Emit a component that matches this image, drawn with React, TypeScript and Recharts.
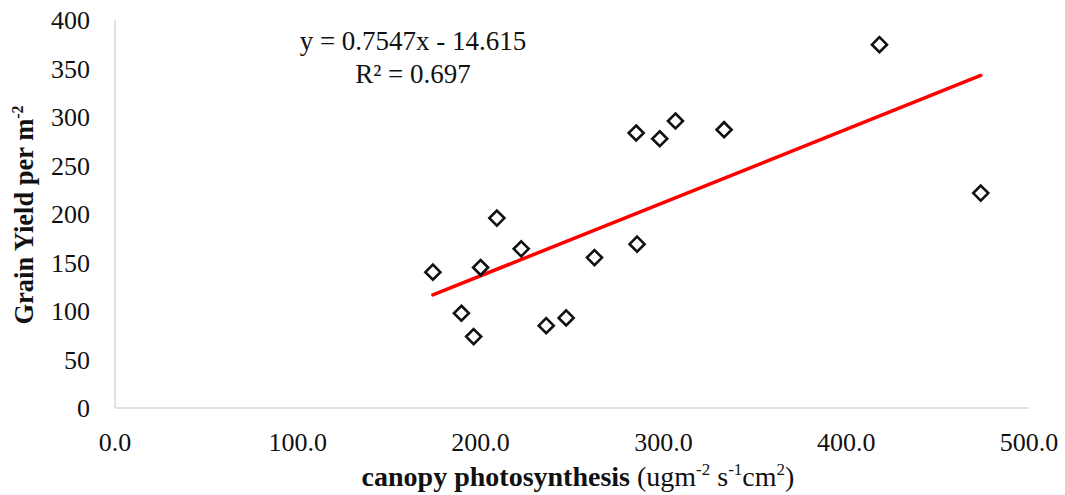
import React from 'react';
import {
  ScatterChart,
  Scatter,
  XAxis,
  YAxis,
  Label,
  Customized,
} from 'recharts';

// canopy photosynthesis (x) and grain yield per m-2 (y) for each plot
const photosynthesis = [
  173.9, 189.5, 196.2, 200.0, 208.9, 222.2, 235.9, 246.8,
  262.3, 285.1, 285.6, 298.0, 306.6, 333.2, 418.2, 473.6,
];
const grainYield = [
  140.0, 97.7, 73.6, 144.8, 195.8, 164.1, 84.9, 92.9,
  155.1, 283.5, 168.9, 277.6, 295.9, 286.9, 374.6, 221.6,
];

const xTicks = [0, 100, 200, 300, 400, 500];
const yTicks = [0, 50, 100, 150, 200, 250, 300, 350, 400];

// linear trend reported on the chart
const slope = 0.7547;
const intercept = -14.615;
const rSquared = 0.697;

const points = photosynthesis.map((x, i) => ({ x, y: grainYield[i] }));
const xMin = Math.min(...photosynthesis);
const xMax = Math.max(...photosynthesis);
const trend = [xMin, xMax].map((x) => ({ x, y: slope * x + intercept }));

const FONT = '"Times New Roman", "Liberation Serif", serif';
const AXIS_GREY = '#d9d9d9';

const Diamond = (props: any) => {
  const { cx, cy } = props;
  const r = 7.5;
  return (
    <path
      d={`M${cx},${cy - r} L${cx + r},${cy} L${cx},${cy + r} L${cx - r},${cy} Z`}
      fill="none"
      stroke="#111"
      strokeWidth={2.6}
      strokeLinejoin="miter"
    />
  );
};

const Equation = () => (
  <g fontFamily={FONT} fontSize={27} fill="#111">
    <text x={413} y={50} textAnchor="middle">
      {`y = ${slope}x - ${Math.abs(intercept)}`}
    </text>
    <text x={413} y={83} textAnchor="middle">
      {`R² = ${rSquared}`}
    </text>
  </g>
);

const XTitle = () => (
  <text x={578} y={486} textAnchor="middle" fontFamily={FONT} fontSize={28} fill="#111">
    <tspan fontWeight="bold">canopy photosynthesis</tspan>
    <tspan> (ugm</tspan>
    <tspan fontSize={17} dy={-11}>-2</tspan>
    <tspan dy={11}> s</tspan>
    <tspan fontSize={17} dy={-11}>-1</tspan>
    <tspan dy={11}>cm</tspan>
    <tspan fontSize={17} dy={-11}>2</tspan>
    <tspan dy={11}>)</tspan>
  </text>
);

const YTitle = () => (
  <text
    transform="translate(33,215) rotate(-90)"
    textAnchor="middle"
    fontFamily={FONT}
    fontSize={26.5}
    fontWeight="bold"
    fill="#111"
  >
    <tspan>Grain Yield per m</tspan>
    <tspan fontSize={16} dy={-10}>-2</tspan>
  </text>
);

const tickStyle = { fill: '#111', fontSize: 26, fontFamily: FONT };

export default function App() {
  return (
    <div style={{ position: 'absolute', left: 0, top: 0, background: '#fff' }}>
      <ScatterChart
        width={1065}
        height={495}
        margin={{ top: 20, right: 36, left: 0, bottom: 0 }}
      >
        <XAxis
          type="number"
          dataKey="x"
          domain={[0, 500]}
          ticks={xTicks}
          tickFormatter={(v: number) => v.toFixed(1)}
          axisLine={{ stroke: AXIS_GREY, strokeWidth: 1.5 }}
          tickLine={false}
          tickMargin={19}
          tick={tickStyle}
          height={87}
          allowDataOverflow
        >
          <Label content={() => <XTitle />} />
        </XAxis>
        <YAxis
          type="number"
          dataKey="y"
          domain={[0, 400]}
          ticks={yTicks}
          axisLine={{ stroke: AXIS_GREY, strokeWidth: 1.5 }}
          tickLine={false}
          tickMargin={19}
          tick={tickStyle}
          width={115}
          allowDataOverflow
        >
          <Label content={() => <YTitle />} />
        </YAxis>
        <Scatter
          data={trend}
          line={{ stroke: '#ff0000', strokeWidth: 3.5, strokeLinecap: 'round' }}
          shape={() => <g />}
          isAnimationActive={false}
        />
        <Scatter data={points} shape={Diamond} isAnimationActive={false} />
        <Customized component={Equation} />
      </ScatterChart>
    </div>
  );
}
